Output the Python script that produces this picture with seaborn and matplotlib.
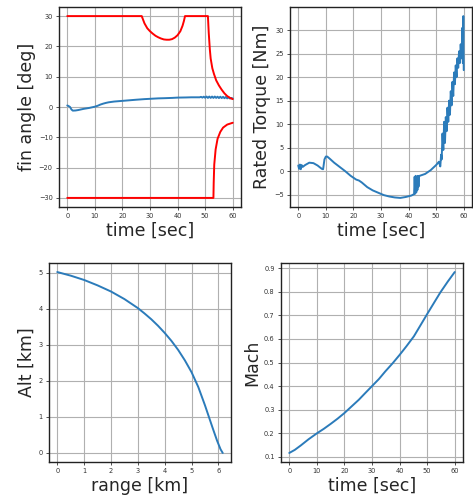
import matplotlib
matplotlib.use("Agg")
import matplotlib.pyplot as plt
import seaborn as sns

# ---- data ----
fin_t = [0, 0.5, 1, 1.5, 2, 3, 4, 5, 6, 7, 8, 9, 10, 11, 12, 13, 14, 15, 17, 19, 21, 23,
         25, 28, 30, 33, 35, 38, 40, 43, 45, 48,
         48.5, 49, 49.5, 50, 50.5, 51, 51.5, 52, 52.5, 53, 53.5, 54, 54.5, 55, 55.5, 56,
         56.5, 57, 57.5, 58, 58.5, 59, 59.5, 60]
fin_v = [0.5, 0.3, 0.0, -0.8, -1.2, -1.15, -1.0, -0.8, -0.6, -0.45, -0.3, -0.1, 0.1,
         0.4, 0.8, 1.1, 1.35, 1.55, 1.8, 1.95, 2.1, 2.25, 2.4, 2.6, 2.7, 2.85, 2.9, 3.0,
         3.1, 3.15, 3.2, 3.2,
         3.35, 3.1, 3.4, 3.05, 3.45, 3.0, 3.45, 3.0, 3.45, 3.0, 3.45, 3.0, 3.4, 2.95,
         3.4, 2.95, 3.35, 2.9, 3.3, 2.85, 3.2, 2.8, 3.0, 2.8]

up_t = [0, 27, 27.5, 28, 29, 30, 31, 32, 33, 34, 35, 36, 37, 38, 39, 40, 41, 41.8, 42.3,
        42.7, 51, 51.3, 51.7, 52.0, 52.6, 53.2, 54, 55, 56, 57, 58, 59, 60]
up_v = [30, 30, 28.8, 27.6, 26, 25, 24.2, 23.5, 23.0, 22.6, 22.3, 22.2, 22.2, 22.4, 22.9,
        23.7, 25.0, 26.8, 28.4, 30, 30, 24.5, 19, 16, 12.8, 10.9, 8.8, 7.1, 5.7, 4.5,
        3.6, 3.0, 2.6]

lo_t = [0, 53, 53.1, 53.3, 53.8, 54.5, 55.5, 56.5, 58, 60]
lo_v = [-30, -30, -25, -19, -14, -10.5, -8.2, -6.8, -5.8, -5.2]

tq_t = [0.0, 0.3, 0.6, 0.9, 1.2, 1.6, 2.5, 4.0, 5.5, 7.0, 8.5, 9.0, 9.5, 10.0, 10.5,
        11.5, 13.0, 15.0, 17.0, 19.0, 21.0, 22.0, 23.0, 25.0, 27.0, 29.0, 31.0, 33.0,
        35.0, 37.0, 39.0, 41.0, 42.0, 42.2, 42.4, 42.6, 42.8, 43.0, 43.2, 43.4, 43.6,
        43.8, 44.0, 46.0, 48.0, 50.0, 51.0, 51.5, 51.8, 52.0, 52.3, 52.6, 52.9, 53.2,
        53.5, 53.8, 54.1, 54.4, 54.7, 55.0, 55.3, 55.6, 55.9, 56.2, 56.5, 56.8, 57.1,
        57.4, 57.7, 58.0, 58.3, 58.6, 58.9, 59.2, 59.5, 59.7, 59.85, 60.0]
tq_v = [1.2, 0.5, 1.4, 0.4, 1.3, 0.9, 1.3, 1.8, 1.7, 1.2, 0.5, 0.4, 2.5, 3.1, 3.1,
        2.6, 1.8, 0.9, 0.0, -1.0, -1.8, -2.0, -2.4, -3.4, -4.1, -4.6, -5.1, -5.4,
        -5.6, -5.7, -5.5, -5.2, -4.9, -1.2, -4.8, -1.0, -4.5, -1.3, -4.0, -1.0, -3.3,
        -1.2, -1.0, -0.6, 0.2, 1.3, 2.0, 1.0, 3.5, 2.5, 8.0, 4.5, 10.5, 6.0,
        11.5, 8.5, 13.5, 10.5, 15.0, 12.0, 17.0, 14.0, 19.0, 16.0, 21.0, 18.5, 22.5,
        20.0, 24.0, 22.0, 25.5, 23.0, 27.0, 24.0, 30.5, 23.0, 33.0, 21.5]

rng_km = [0, 0.5, 1, 1.5, 2, 2.5, 3, 3.25, 3.5, 3.75, 4, 4.25, 4.5, 4.75, 5, 5.25,
          5.5, 5.65, 5.8, 5.95, 6.08, 6.16]
alt_km = [5.02, 4.92, 4.8, 4.65, 4.48, 4.27, 4.02, 3.87, 3.71, 3.53, 3.33, 3.11, 2.86,
          2.57, 2.24, 1.83, 1.32, 0.99, 0.66, 0.34, 0.1, 0.0]

mach_t = [0, 2, 4.2, 7, 10, 12.5, 15, 17.5, 20, 22.5, 25.2, 27.5, 30, 32.5, 34.8,
          37.5, 40, 42.5, 45.2, 47.5, 50, 52.5, 54.8, 57.5, 60]
mach_v = [0.117, 0.13, 0.149, 0.175, 0.2, 0.219, 0.24, 0.262, 0.286, 0.313, 0.342,
          0.37, 0.4, 0.43, 0.462, 0.497, 0.532, 0.569, 0.611, 0.656, 0.705, 0.753,
          0.797, 0.843, 0.883]

# ---- style ----
sns.set_style("ticks", {"axes.grid": True, "grid.color": "#b0b0b0",
                        "axes.edgecolor": "#222222"})
plt.rcParams["font.family"] = ["DejaVu Sans"]

W, H = 473, 503
fig = plt.figure(figsize=(W / 100, H / 100), dpi=100)

def rect(l, r, t, b):
    return [l / W, 1 - b / H, (r - l) / W, (b - t) / H]

blue = "#2b7bba"
lab_fs = 12.5
tick_fs = 4.8

def fmt(ax, xl, yl):
    ax.set_xlabel(xl, fontsize=lab_fs, labelpad=2)
    ax.set_ylabel(yl, fontsize=lab_fs, labelpad=2)
    ax.tick_params(labelsize=tick_fs, length=2.5, width=0.6, colors="#333333", pad=2)
    ax.grid(True, color="#b0b0b0", linewidth=0.8)
    for s in ax.spines.values():
        s.set_linewidth(1.0)
        s.set_color("#222222")

# fin angle
ax1 = fig.add_axes(rect(59, 241, 7, 207))
sns.lineplot(x=fin_t, y=fin_v, ax=ax1, color=blue, lw=1.4, estimator=None, sort=False)
sns.lineplot(x=up_t, y=up_v, ax=ax1, color="red", lw=1.4, estimator=None, sort=False)
sns.lineplot(x=lo_t, y=lo_v, ax=ax1, color="red", lw=1.4, estimator=None, sort=False)
ax1.set_xticks([0, 10, 20, 30, 40, 50, 60])
ax1.set_yticks([-30, -20, -10, 0, 10, 20, 30])
fmt(ax1, "time [sec]", "fin angle [deg]")

# torque
ax2 = fig.add_axes(rect(290, 472, 7, 207))
sns.lineplot(x=tq_t, y=tq_v, ax=ax2, color=blue, lw=1.4, estimator=None, sort=False)
ax2.set_xticks([0, 10, 20, 30, 40, 50, 60])
ax2.set_yticks([-5, 0, 5, 10, 15, 20, 25, 30])
fmt(ax2, "time [sec]", "Rated Torque [Nm]")

# altitude vs range
ax3 = fig.add_axes(rect(49, 231, 263, 462))
sns.lineplot(x=rng_km, y=alt_km, ax=ax3, color=blue, lw=1.4, estimator=None, sort=False)
ax3.set_xticks([0, 1, 2, 3, 4, 5, 6])
ax3.set_yticks([0, 1, 2, 3, 4, 5])
fmt(ax3, "range [km]", "Alt [km]")

# mach
ax4 = fig.add_axes(rect(281, 463, 263, 462))
sns.lineplot(x=mach_t, y=mach_v, ax=ax4, color=blue, lw=1.4, estimator=None, sort=False)
ax4.set_xticks([0, 10, 20, 30, 40, 50, 60])
ax4.set_yticks([0.1, 0.2, 0.3, 0.4, 0.5, 0.6, 0.7, 0.8, 0.9])
fmt(ax4, "time [sec]", "Mach")

fig.savefig("out.png", dpi=100)
